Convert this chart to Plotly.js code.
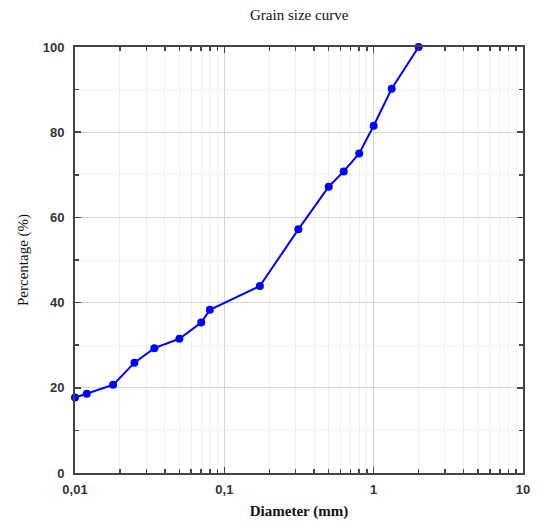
<!DOCTYPE html>
<html>
<head>
<meta charset="utf-8">
<script src="https://cdn.plot.ly/plotly-3.0.1.min.js"></script>
<style>html,body{margin:0;padding:0;background:#fff;}#chart{width:540px;height:526px;}</style>
</head>
<body>
<div id="chart"></div>
<script>
var diameter = [0.01, 0.012, 0.018, 0.025, 0.034, 0.05, 0.07, 0.08, 0.173, 0.313, 0.5, 0.63, 0.8, 1.0, 1.32, 2.0];
var percentage = [17.7, 18.6, 20.7, 25.9, 29.3, 31.5, 35.3, 38.3, 43.9, 57.2, 67.2, 70.8, 75.0, 81.5, 90.2, 100];
var chartTitle = "Grain size curve";
var xTitle = "Diameter (mm)";
var yTitle = "Percentage (%)";

var trace = {
  x: diameter, y: percentage, type: "scatter", mode: "lines+markers",
  line: {color: "#0000ff", width: 2},
  marker: {color: "#0000ff", size: 8},
  cliponaxis: false, showlegend: false
};
var tickFont = {family: "Liberation Sans, Arial, sans-serif", size: 13, color: "#333", weight: "bold"};
var layout = {
  width: 540, height: 526,
  margin: {l: 75, r: 17, t: 47, b: 53},
  separators: ", ",
  paper_bgcolor: "#fff", plot_bgcolor: "#fff",
  title: {text: chartTitle, x: 0.554, xanchor: "center", y: 0.972, yanchor: "middle",
          font: {family: "Liberation Serif, Times New Roman, serif", size: 15, color: "#111"}},
  xaxis: {
    type: "log", range: [-2, 1], dtick: 1, tickfont: tickFont,
    ticks: "inside", ticklen: 6, tickwidth: 1.5, tickcolor: "#444", ticklabelstandoff: 3,
    showline: true, linecolor: "#444", linewidth: 2, mirror: "allticks",
    showgrid: true, gridcolor: "#d4d4d4", gridwidth: 1, zeroline: false,
    minor: {dtick: "D1", ticks: "inside", ticklen: 4, tickcolor: "#444", showgrid: true, gridcolor: "#f0f0f0", gridwidth: 1},
    title: {text: xTitle, standoff: 10,
            font: {family: "Liberation Serif, Times New Roman, serif", size: 15, color: "#111", weight: "bold"}}
  },
  yaxis: {
    range: [0, 100], dtick: 20, tickfont: tickFont,
    ticks: "inside", ticklen: 6, tickwidth: 1.5, tickcolor: "#444", ticklabelstandoff: 6,
    showline: true, linecolor: "#444", linewidth: 2, mirror: "allticks",
    showgrid: true, gridcolor: "#d4d4d4", gridwidth: 1, zeroline: false,
    minor: {dtick: 10, ticks: "inside", ticklen: 4, tickcolor: "#444", showgrid: true, gridcolor: "#f0f0f0", gridwidth: 1},
    title: {text: yTitle, standoff: 10,
            font: {family: "Liberation Serif, Times New Roman, serif", size: 15, color: "#111"}}
  }
};
Plotly.newPlot("chart", [trace], layout, {displayModeBar: false, staticPlot: true});
</script>
</body>
</html>
